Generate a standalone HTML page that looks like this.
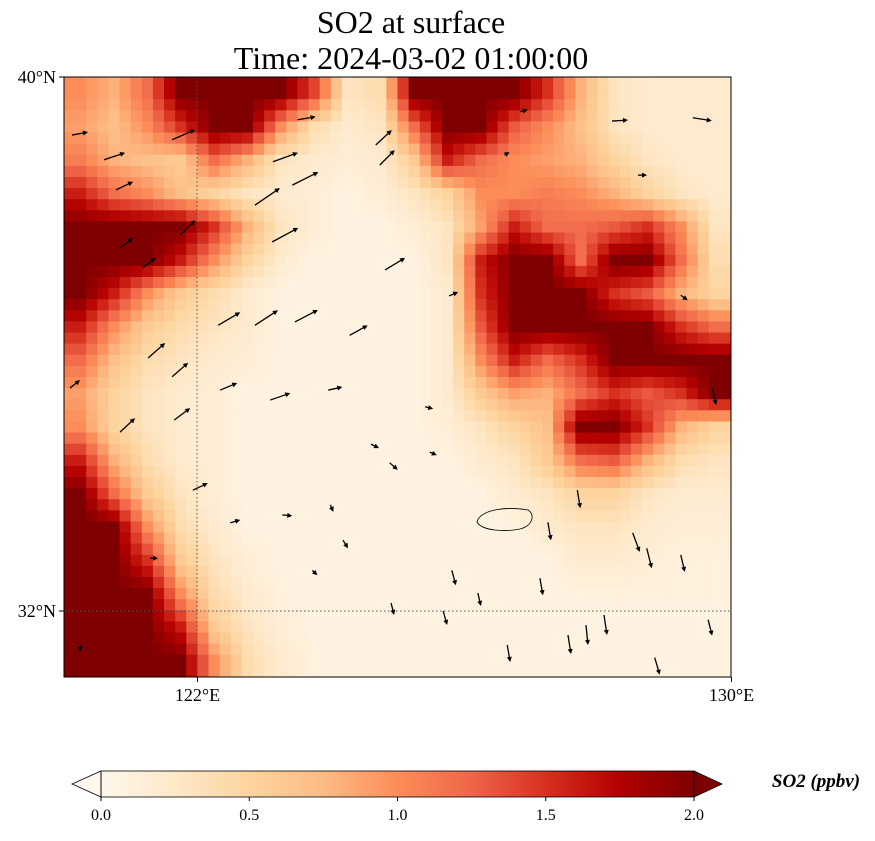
<!DOCTYPE html>
<html><head><meta charset="utf-8"><style>
body{margin:0;background:#fff;width:875px;height:836px;overflow:hidden;font-family:"Liberation Serif",serif}
</style></head><body>
<svg id="chart" width="875" height="836" xmlns="http://www.w3.org/2000/svg" font-family="Liberation Serif, serif">
<defs>
<clipPath id="mapclip"><rect x="64" y="77" width="667" height="600"/></clipPath>
<linearGradient id="cbgrad" x1="0" x2="1" y1="0" y2="0">
<stop offset="0" stop-color="#fff7ec"/><stop offset="0.125" stop-color="#fee8c8"/><stop offset="0.25" stop-color="#fdd49e"/><stop offset="0.375" stop-color="#fdbb84"/><stop offset="0.5" stop-color="#fc8d59"/><stop offset="0.625" stop-color="#ef6548"/><stop offset="0.75" stop-color="#d7301f"/><stop offset="0.875" stop-color="#b30000"/><stop offset="1" stop-color="#7f0000"/>
</linearGradient>
</defs>
<text x="411" y="33" font-size="32" text-anchor="middle">SO2 at surface</text>
<text x="411" y="69" font-size="32" text-anchor="middle">Time: 2024-03-02 01:00:00</text>
<g id="cells" clip-path="url(#mapclip)"></g>
<g stroke="#555" stroke-width="1" stroke-dasharray="1.5,2.5">
<line x1="197" y1="77" x2="197" y2="677"/><line x1="64" y1="611" x2="731" y2="611"/>
</g>
<path d="M477,522 C480,510 505,506 528,510 C536,515 532,526 520,529 C505,532 482,531 477,522 Z" fill="none" stroke="#000" stroke-width="0.8"/>
<g id="arrows" clip-path="url(#mapclip)"></g>
<rect x="64" y="77" width="667" height="600" fill="none" stroke="#000" stroke-width="1"/>
<g id="axes" font-size="18"></g>
<g>
<rect x="101" y="771" width="593" height="26" fill="url(#cbgrad)"/>
<polygon points="101,771 72,784 101,797" fill="#fff7ec" stroke="#000" stroke-width="0.8"/>
<polygon points="694,771 722,784 694,797" fill="#7f0000" stroke="#000" stroke-width="0.8"/>
<rect x="101" y="771" width="593" height="26" fill="none" stroke="#000" stroke-width="0.8"/>
<g id="cbticks" font-size="16"></g>
<text x="816" y="787" font-size="19" font-weight="bold" font-style="italic" text-anchor="middle">SO2 (ppbv)</text>
</g>
</svg>
<script>
const so2Rows = [
[1.0,0.8,1.2,2,2,2,2,1.4,0.3,0.4,2,2,2,2,1.5,0.8,0.3,0.2,0.2,0.2],
[0.9,0.7,1.0,1.5,2,2,1.0,0.4,0.2,0.3,1.2,2,2,1.3,1.0,0.7,0.3,0.2,0.2,0.2],
[1.1,0.8,0.7,0.6,1.2,0.8,0.3,0.2,0.15,0.2,0.6,1.6,1.2,1.0,0.9,0.8,0.5,0.3,0.2,0.2],
[1.6,1.2,1.0,0.7,0.5,0.3,0.2,0.15,0.08,0.15,0.3,0.5,1.0,1.0,1.1,1.0,0.8,0.5,0.3,0.2],
[2,2,2,2,1.5,0.8,0.3,0.15,0.08,0.08,0.15,0.3,0.9,1.6,1.2,1.2,1.3,1.5,1.0,0.3],
[2,2,2,1.6,1.0,0.5,0.2,0.08,0.08,0.08,0.08,0.3,1.6,2,2,1.2,2,2,1.2,0.4],
[2,1.6,1.0,0.6,0.4,0.2,0.08,0.08,0.08,0.08,0.08,0.2,1.5,2,2,2,1.5,1.3,0.8,0.5],
[1.6,1.0,0.6,0.4,0.3,0.2,0.08,0.08,0.08,0.08,0.08,0.2,1.3,2,2,2,2,2,1.5,1.2],
[1.2,0.7,0.4,0.3,0.2,0.15,0.08,0.08,0.08,0.08,0.08,0.2,1.0,1.6,1.2,1.5,2,2,2,2],
[0.9,0.5,0.3,0.2,0.15,0.08,0.08,0.08,0.08,0.08,0.08,0.2,0.6,0.9,0.8,1.2,1.5,1.3,1.5,2],
[1.0,0.5,0.3,0.2,0.15,0.08,0.08,0.08,0.08,0.08,0.08,0.15,0.3,0.5,0.7,2,2,1.5,0.8,0.5],
[1.6,0.8,0.4,0.2,0.15,0.08,0.08,0.08,0.08,0.08,0.08,0.08,0.2,0.3,0.6,1.2,1.3,0.8,0.4,0.3],
[2,1.2,0.6,0.3,0.15,0.08,0.08,0.08,0.08,0.08,0.08,0.08,0.08,0.2,0.3,0.5,0.5,0.3,0.2,0.2],
[2,2,1.0,0.4,0.2,0.08,0.08,0.08,0.08,0.08,0.08,0.08,0.08,0.08,0.2,0.3,0.3,0.2,0.15,0.15],
[2,2,1.5,0.6,0.3,0.15,0.08,0.08,0.08,0.08,0.08,0.08,0.08,0.08,0.08,0.2,0.2,0.15,0.1,0.1],
[2,2,2,1.0,0.4,0.2,0.1,0.08,0.08,0.08,0.08,0.08,0.08,0.08,0.08,0.1,0.1,0.1,0.1,0.1],
[2,2,2,1.6,0.6,0.3,0.15,0.08,0.08,0.08,0.08,0.08,0.08,0.08,0.08,0.08,0.08,0.08,0.08,0.08],
[2,2,2,2,1.0,0.4,0.2,0.1,0.08,0.08,0.08,0.08,0.08,0.08,0.08,0.08,0.08,0.08,0.08,0.08]
];
const windLon = [120.12,120.6,120.78,120.84,121.18,121.74,121.62,122.86,123.13,123.42,123.5,123.12,124.81,124.67,124.73,122.31,122.86,123.46,124.28,121.26,121.62,120.09,120.84,121.65,122.34,123.09,123.96,125.77,125.41,124.6,124.88,125.48,121.93,122.49,123.27,121.29,124.18,123.99,123.72,125.81,126.2,124.9,125.68,126.64,127.55,127.82,128.09,127.13,127.25,127.69,128.52,128.73,129.24,129.65,128.85,128.21,129.42,126.83,128.6,129.24,129.71,126.6,120.24];
const windLat = [39.13,38.76,38.31,37.44,37.14,37.63,39.06,38.08,38.73,38.38,39.36,37.53,37.11,38.98,38.68,36.28,36.28,36.33,36.13,35.79,35.51,35.34,34.68,34.86,35.31,35.16,35.31,36.72,35.06,34.5,34.22,34.38,33.81,33.32,33.44,32.79,33.06,33.59,32.61,32.61,32.27,32.12,32.0,31.49,31.64,31.79,31.94,32.49,33.33,33.81,33.17,32.94,32.84,31.87,31.3,39.34,39.39,39.48,38.53,36.73,35.34,38.83,31.49];
const windU = [8,10.5,8.5,6.5,6.5,7.5,11.5,12.5,12.5,13,9,13,10,8,7.5,11,11.5,11.5,9,8.5,8,5,7.5,8,8.5,10,7,4.5,4,4,4,3.5,7.5,5,5,4,2.5,1.5,2.5,2,1.5,1.5,2,1.5,1.5,1,1.5,1.5,1.5,1.5,3.5,2.5,2,2,2.5,8,9.5,4,4.5,3.5,2,2.5,0];
const windV = [1.5,3.5,4,5,5,7.5,5,8.5,4.5,6.5,1.5,7,6,7.5,7.5,6.5,7.5,6,5,7.5,7,4,7,6,3.5,3.5,1.5,2,-1,-2,-3.5,-1.5,3.5,1.5,-0.5,0,-4,-3.5,-2.5,-7.5,-6.5,-6,-7,-8.5,-9.5,-10,-10,-8.5,-9,-9,-9.5,-10,-8.5,-8,-8.5,0.5,-1.5,1,0,-2.5,-8.5,1.5,-3.5];
const lonTicks = [122,130];
const latTicks = [40,32];
const cbTicks = [0.0,0.5,1.0,1.5,2.0];

const NS="http://www.w3.org/2000/svg";
const X0=64,Y0=77,W=667,H=600,LON0=120,LAT0=40,PPD=66.75;
const xOf=lon=>X0+(lon-LON0)*PPD;
const yOf=lat=>Y0+(LAT0-lat)*PPD;
const stops=[[255,247,236],[254,232,200],[253,212,158],[253,187,132],[252,141,89],[239,101,72],[215,48,31],[179,0,0],[127,0,0]];
function cmap(v){let t=Math.max(0,Math.min(1,v/2))*8;let i=Math.min(7,Math.floor(t));let f=t-i;const a=stops[i],b=stops[i+1];return `rgb(${a.map((c,k)=>Math.round(c+(b[k]-c)*f)).join(',')})`;}
const cells=document.getElementById('cells');
const nr=so2Rows.length,nc=so2Rows[0].length,cw=W/nc,ch=H/nr;
function val(r,c){r=Math.max(0,Math.min(nr-1,r));c=Math.max(0,Math.min(nc-1,c));return so2Rows[r][c];}
function interp(fr,fc){const r0=Math.floor(fr),c0=Math.floor(fc),dr=fr-r0,dc=fc-c0;
  return val(r0,c0)*(1-dr)*(1-dc)+val(r0,c0+1)*(1-dr)*dc+val(r0+1,c0)*dr*(1-dc)+val(r0+1,c0+1)*dr*dc;}
const SUB=3,sw=cw/SUB,sh=ch/SUB;
for(let r=0;r<nr*SUB;r++)for(let c=0;c<nc*SUB;c++){
  const fr=(r+0.5)/SUB-0.5,fc=(c+0.5)/SUB-0.5;
  const v=interp(fr,fc);
  const e=document.createElementNS(NS,'rect');
  e.setAttribute('x',X0+c*sw);e.setAttribute('y',Y0+r*sh);
  e.setAttribute('width',sw+0.5);e.setAttribute('height',sh+0.5);
  e.setAttribute('fill',cmap(v));
  
  
  cells.appendChild(e);
}
const arrows=document.getElementById('arrows');
const SC=2;
windLon.forEach((lon,i)=>{
  const x1=xOf(lon),y1=yOf(windLat[i]),x2=x1+windU[i]*SC,y2=y1-windV[i]*SC;
  const ang=Math.atan2(y2-y1,x2-x1),hl=5,hw=2.5;
  const g=document.createElementNS(NS,'g');
  
  
  const l=document.createElementNS(NS,'line');
  l.setAttribute('x1',x1);l.setAttribute('y1',y1);l.setAttribute('x2',x2-Math.cos(ang)*hl*0.6);l.setAttribute('y2',y2-Math.sin(ang)*hl*0.6);
  l.setAttribute('stroke','#000');l.setAttribute('stroke-width','1.3');
  const p=document.createElementNS(NS,'polygon');
  const bx=x2-Math.cos(ang)*hl,by=y2-Math.sin(ang)*hl;
  p.setAttribute('points',`${x2},${y2} ${bx-Math.sin(ang)*hw},${by+Math.cos(ang)*hw} ${bx+Math.sin(ang)*hw},${by-Math.cos(ang)*hw}`);
  p.setAttribute('fill','#000');
  g.appendChild(l);g.appendChild(p);arrows.appendChild(g);
});
const axes=document.getElementById('axes');
lonTicks.forEach(t=>{
  const x=xOf(t);
  const l=document.createElementNS(NS,'line');
  l.setAttribute('x1',x);l.setAttribute('x2',x);l.setAttribute('y1',677);l.setAttribute('y2',682);l.setAttribute('stroke','#000');
  
  
  axes.appendChild(l);
  const s=document.createElementNS(NS,'text');
  s.setAttribute('x',x);s.setAttribute('y',701);s.setAttribute('text-anchor','middle');
  s.textContent=t+'°E';
  
  
  axes.appendChild(s);
});
latTicks.forEach(t=>{
  const y=yOf(t);
  const l=document.createElementNS(NS,'line');
  l.setAttribute('x1',59);l.setAttribute('x2',64);l.setAttribute('y1',y);l.setAttribute('y2',y);l.setAttribute('stroke','#000');
  
  
  axes.appendChild(l);
  const s=document.createElementNS(NS,'text');
  s.setAttribute('x',56);s.setAttribute('y',y+6);s.setAttribute('text-anchor','end');
  s.textContent=t+'°N';
  
  
  axes.appendChild(s);
});
const cbt=document.getElementById('cbticks');
cbTicks.forEach(t=>{
  const x=101+t/2*593;
  const l=document.createElementNS(NS,'line');
  l.setAttribute('x1',x);l.setAttribute('x2',x);l.setAttribute('y1',797);l.setAttribute('y2',801);l.setAttribute('stroke','#000');
  
  
  cbt.appendChild(l);
  const s=document.createElementNS(NS,'text');
  s.setAttribute('x',x);s.setAttribute('y',820);s.setAttribute('text-anchor','middle');
  s.textContent=t.toFixed(1);
  
  
  cbt.appendChild(s);
});
</script>
</body></html>
